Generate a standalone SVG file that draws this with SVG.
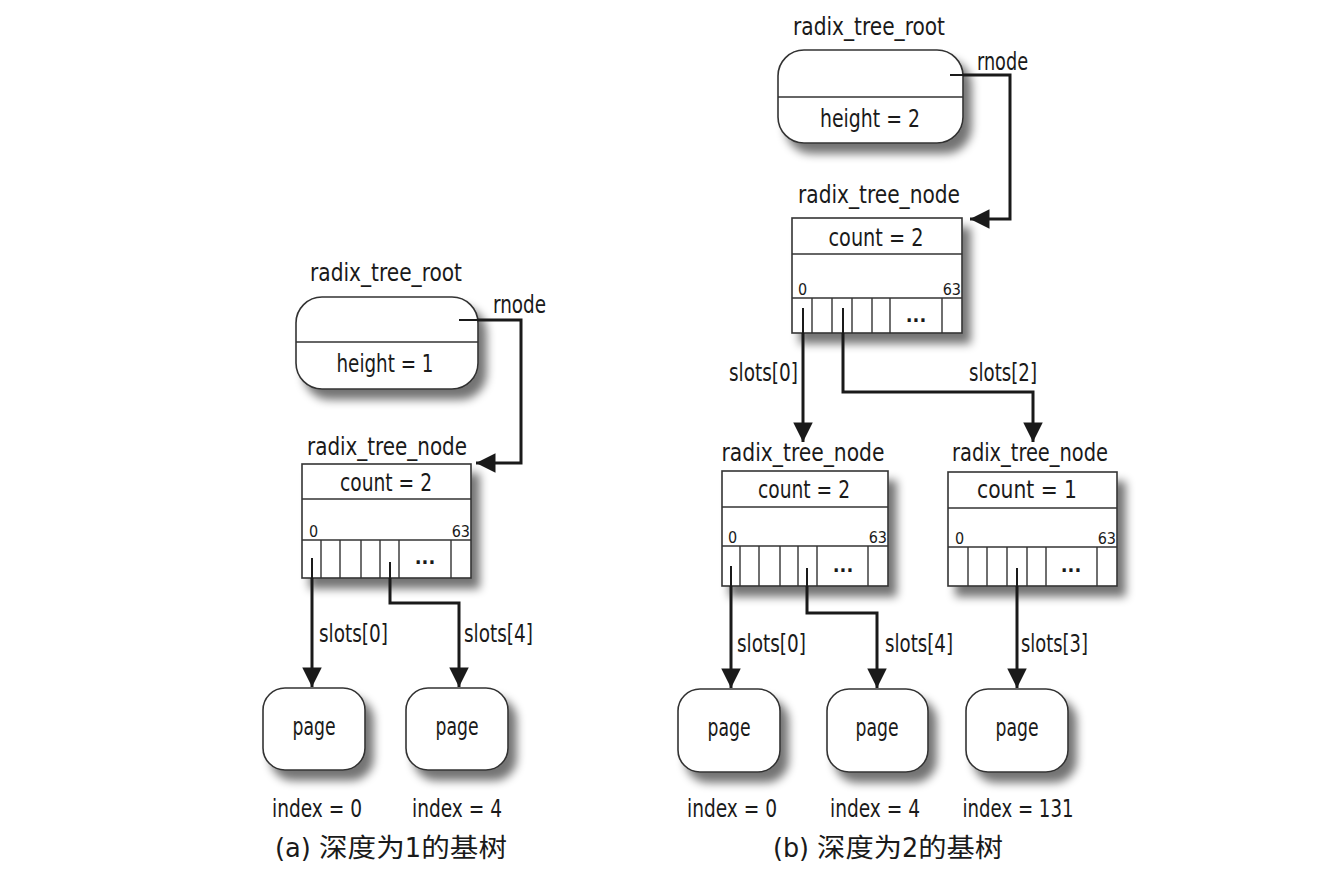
<svg xmlns="http://www.w3.org/2000/svg" width="1333" height="881" viewBox="0 0 1333 881">
<style>
text{font-family:"Liberation Sans Narrow","DejaVu Sans Condensed","Liberation Sans",sans-serif;fill:#1a1a1a}
.t{font-size:24px}
.s{font-size:16px}
.d{font-size:20px;font-weight:bold}
.cap{font-family:"Liberation Sans Narrow","DejaVu Sans Condensed","Noto Sans CJK SC",sans-serif;font-size:26px}
.box{fill:#fff;stroke:#333;stroke-width:1.6}
.ln{stroke:#333;stroke-width:1.4;fill:none}
.ptr{stroke:#1a1a1a;stroke-width:2;fill:none}
.con{stroke:#1a1a1a;stroke-width:3;fill:none}
</style>
<defs>
<filter id="sh" x="-20%" y="-20%" width="150%" height="160%">
<feGaussianBlur in="SourceAlpha" stdDeviation="5"/>
<feOffset dx="8" dy="10" result="b"/>
<feComponentTransfer><feFuncA type="linear" slope="0.55"/></feComponentTransfer>
<feMerge><feMergeNode/><feMergeNode in="SourceGraphic"/></feMerge>
</filter>
<marker id="ah" viewBox="0 0 10 10" refX="10" refY="5" markerWidth="7.5" markerHeight="6.5" markerUnits="strokeWidth" orient="auto">
<path d="M0,0 L10,5 L0,10 z" fill="#1a1a1a"/>
</marker>
</defs>
<rect width="1333" height="881" fill="#fff"/>

<!-- (a) -->
<g id="a-root">
<text class="t" x="386" y="281" text-anchor="middle" textLength="152" lengthAdjust="spacingAndGlyphs">radix_tree_root</text>
<rect class="box" x="296" y="297" width="182" height="92" rx="26" filter="url(#sh)"/>
<line class="ln" x1="296" y1="342" x2="478" y2="342"/>
<text class="t" x="385" y="372" text-anchor="middle" textLength="97" lengthAdjust="spacingAndGlyphs">height = 1</text>
</g>
<g id="a-node">
<text class="t" x="387" y="455" text-anchor="middle" textLength="160" lengthAdjust="spacingAndGlyphs">radix_tree_node</text>
<rect class="box" x="302" y="464" width="169" height="114" filter="url(#sh)"/>
<line class="ln" x1="302" y1="499" x2="471" y2="499"/>
<line class="ln" x1="302" y1="540" x2="471" y2="540"/>
<path class="ln" d="M321,540V578M340,540V578M361,540V578M380,540V578M399,540V578M451,540V578"/>
<text class="t" x="386" y="491" text-anchor="middle" textLength="92" lengthAdjust="spacingAndGlyphs">count = 2</text>
<text class="s" x="309" y="537">0</text>
<text class="s" x="470" y="537" text-anchor="end">63</text>
<text class="d" x="425" y="564" text-anchor="middle">...</text>
</g>
<g id="a-page0">
<rect class="box" x="263" y="688" width="102" height="82" rx="22" filter="url(#sh)"/>
<text class="t" x="314" y="735" text-anchor="middle" textLength="43" lengthAdjust="spacingAndGlyphs">page</text>
<text class="t" x="317" y="817" text-anchor="middle" textLength="90" lengthAdjust="spacingAndGlyphs">index = 0</text>
</g>
<g id="a-page4">
<rect class="box" x="406" y="688" width="102" height="82" rx="22" filter="url(#sh)"/>
<text class="t" x="457" y="735" text-anchor="middle" textLength="43" lengthAdjust="spacingAndGlyphs">page</text>
<text class="t" x="457" y="817" text-anchor="middle" textLength="90" lengthAdjust="spacingAndGlyphs">index = 4</text>
</g>
<text class="cap" x="391" y="857" text-anchor="middle" textLength="232" lengthAdjust="spacingAndGlyphs">(a) 深度为1的基树</text>

<!-- (b) -->
<g id="b-root">
<text class="t" x="869" y="35" text-anchor="middle" textLength="152" lengthAdjust="spacingAndGlyphs">radix_tree_root</text>
<rect class="box" x="778" y="50" width="185" height="93" rx="26" filter="url(#sh)"/>
<line class="ln" x1="778" y1="97" x2="963" y2="97"/>
<text class="t" x="870" y="127" text-anchor="middle" textLength="100" lengthAdjust="spacingAndGlyphs">height = 2</text>
</g>
<g id="b-node">
<text class="t" x="879" y="203" text-anchor="middle" textLength="162" lengthAdjust="spacingAndGlyphs">radix_tree_node</text>
<rect class="box" x="792" y="218" width="170" height="115" filter="url(#sh)"/>
<line class="ln" x1="792" y1="254" x2="962" y2="254"/>
<line class="ln" x1="792" y1="298" x2="962" y2="298"/>
<path class="ln" d="M812,298V333M832,298V333M852,298V333M872,298V333M890,298V333M942,298V333"/>
<text class="t" x="876" y="246" text-anchor="middle" textLength="95" lengthAdjust="spacingAndGlyphs">count = 2</text>
<text class="s" x="798" y="295">0</text>
<text class="s" x="961" y="295" text-anchor="end" fill="#777">63</text>
<text class="d" x="916" y="322" text-anchor="middle">...</text>
</g>
<g id="b-node-l">
<text class="t" x="803" y="461" text-anchor="middle" textLength="163" lengthAdjust="spacingAndGlyphs">radix_tree_node</text>
<rect class="box" x="722" y="471" width="166" height="115" filter="url(#sh)"/>
<line class="ln" x1="722" y1="507" x2="888" y2="507"/>
<line class="ln" x1="722" y1="546" x2="888" y2="546"/>
<path class="ln" d="M740,546V586M759,546V586M780,546V586M798,546V586M817,546V586M868,546V586"/>
<text class="t" x="804" y="498" text-anchor="middle" textLength="92" lengthAdjust="spacingAndGlyphs">count = 2</text>
<text class="s" x="728" y="543">0</text>
<text class="s" x="887" y="543" text-anchor="end">63</text>
<text class="d" x="843" y="572" text-anchor="middle">...</text>
</g>
<g id="b-node-r">
<text class="t" x="1030" y="461" text-anchor="middle" textLength="156" lengthAdjust="spacingAndGlyphs">radix_tree_node</text>
<rect class="box" x="948" y="472" width="169" height="114" filter="url(#sh)"/>
<line class="ln" x1="948" y1="508" x2="1117" y2="508"/>
<line class="ln" x1="948" y1="547" x2="1117" y2="547"/>
<path class="ln" d="M968,547V586M987,547V586M1007,547V586M1027,547V586M1046,547V586M1097,547V586"/>
<text class="t" x="1027" y="498" text-anchor="middle" textLength="100" lengthAdjust="spacingAndGlyphs">count = 1</text>
<text class="s" x="955" y="544">0</text>
<text class="s" x="1116" y="544" text-anchor="end">63</text>
<text class="d" x="1071" y="572" text-anchor="middle">...</text>
</g>
<g id="b-page0">
<rect class="box" x="678" y="689" width="102" height="83" rx="22" filter="url(#sh)"/>
<text class="t" x="729" y="736" text-anchor="middle" textLength="43" lengthAdjust="spacingAndGlyphs">page</text>
<text class="t" x="732" y="817" text-anchor="middle" textLength="90" lengthAdjust="spacingAndGlyphs">index = 0</text>
</g>
<g id="b-page4">
<rect class="box" x="827" y="689" width="101" height="83" rx="22" filter="url(#sh)"/>
<text class="t" x="877" y="736" text-anchor="middle" textLength="43" lengthAdjust="spacingAndGlyphs">page</text>
<text class="t" x="875" y="817" text-anchor="middle" textLength="90" lengthAdjust="spacingAndGlyphs">index = 4</text>
</g>
<g id="b-page131">
<rect class="box" x="966" y="689" width="102" height="83" rx="22" filter="url(#sh)"/>
<text class="t" x="1017" y="736" text-anchor="middle" textLength="43" lengthAdjust="spacingAndGlyphs">page</text>
<text class="t" x="1018" y="817" text-anchor="middle" textLength="111" lengthAdjust="spacingAndGlyphs">index = 131</text>
</g>
<text class="cap" x="888" y="857" text-anchor="middle" textLength="230" lengthAdjust="spacingAndGlyphs">(b) 深度为2的基树</text>

<g id="connectors">
<!-- (a) -->
<path class="ptr" d="M459,320H478"/>
<path class="con" d="M478,320H521V463H476" marker-end="url(#ah)"/>
<text class="t" x="493" y="313" textLength="53" lengthAdjust="spacingAndGlyphs">rnode</text>
<path class="ptr" d="M312,558V578"/>
<path class="con" d="M312,578V687" marker-end="url(#ah)"/>
<text class="t" x="319" y="642" textLength="69" lengthAdjust="spacingAndGlyphs">slots[0]</text>
<path class="ptr" d="M390,562V578"/>
<path class="con" d="M390,578V603H459V687" marker-end="url(#ah)"/>
<text class="t" x="464" y="642" textLength="69" lengthAdjust="spacingAndGlyphs">slots[4]</text>
<!-- (b) -->
<path class="ptr" d="M950,75H963"/>
<path class="con" d="M963,75H1010V219H970" marker-end="url(#ah)"/>
<text class="t" x="977" y="70" textLength="51" lengthAdjust="spacingAndGlyphs">rnode</text>
<path class="ptr" d="M803,308V333"/>
<path class="con" d="M803,333V442" marker-end="url(#ah)"/>
<text class="t" x="729" y="381" textLength="69" lengthAdjust="spacingAndGlyphs">slots[0]</text>
<path class="ptr" d="M843,308V333"/>
<path class="con" d="M843,333V392H1033V442" marker-end="url(#ah)"/>
<text class="t" x="969" y="381" textLength="68" lengthAdjust="spacingAndGlyphs">slots[2]</text>
<path class="ptr" d="M731,566V586"/>
<path class="con" d="M731,586V688" marker-end="url(#ah)"/>
<text class="t" x="737" y="652" textLength="69" lengthAdjust="spacingAndGlyphs">slots[0]</text>
<path class="ptr" d="M807,568V586"/>
<path class="con" d="M807,586V613H877V688" marker-end="url(#ah)"/>
<text class="t" x="885" y="652" textLength="68" lengthAdjust="spacingAndGlyphs">slots[4]</text>
<path class="ptr" d="M1017,568V586"/>
<path class="con" d="M1017,586V688" marker-end="url(#ah)"/>
<text class="t" x="1021" y="652" textLength="67" lengthAdjust="spacingAndGlyphs">slots[3]</text>
</g>
</svg>
